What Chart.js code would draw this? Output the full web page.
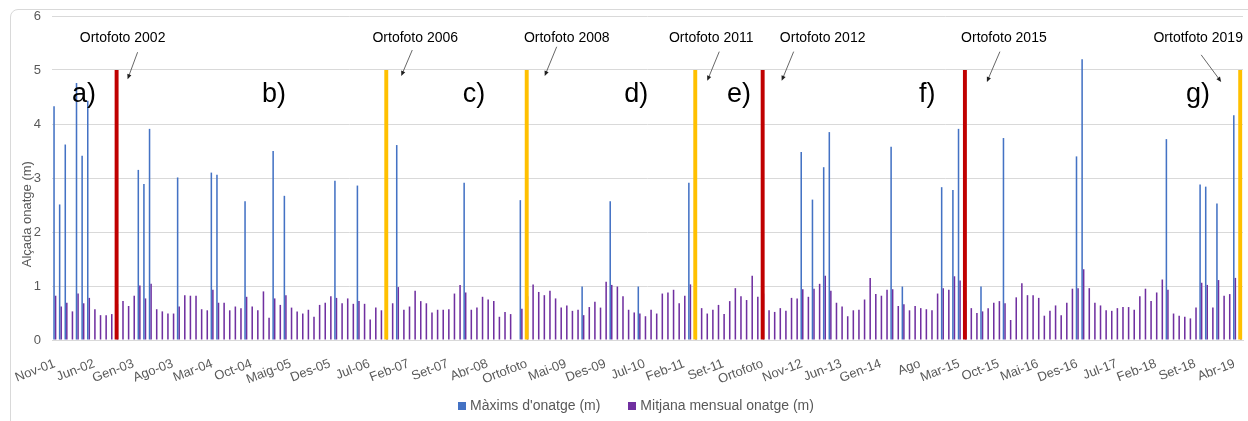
<!DOCTYPE html>
<html>
<head>
<meta charset="utf-8">
<script src="https://cdn.jsdelivr.net/npm/chart.js@4.4.1/dist/chart.umd.min.js"></script>
<style>
  html, body { margin: 0; padding: 0; background: #ffffff; }
  #wrap { position: relative; width: 1248px; height: 421px; overflow: hidden; }
  #frame { position: absolute; left: 10px; top: 9px; width: 1270px; height: 460px;
           border: 1px solid #d9d9d9; border-radius: 8px; box-sizing: border-box; }
  #chart { position: absolute; left: 0; top: 0; }
</style>
</head>
<body>
<div id="wrap">
  <div id="frame"></div>
  <canvas id="chart" width="1248" height="421"></canvas>
</div>
<script>
// Axis labels shown every 7th month
const tickLabels = ['Nov-01','Jun-02','Gen-03','Ago-03','Mar-04','Oct-04','Maig-05','Des-05','Jul-06',
  'Feb-07','Set-07','Abr-08','Ortofoto','Mai-09','Des-09','Jul-10','Feb-11','Set-11','Ortofoto',
  'Nov-12','Jun-13','Gen-14','Ago','Mar-15','Oct-15','Mai-16','Des-16','Jul-17','Feb-18','Set-18','Abr-19'];

const _ = null;

// Màxims d'onatge (m), one row per 7 months
const maxims = [
  4.33,2.51,3.62,_,4.76,3.41,4.43,
  _,_,_,_,_,_,_,
  _,3.15,2.89,3.91,_,_,_,
  _,3.01,_,_,_,_,_,
  3.10,3.06,_,_,_,_,2.57,
  _,_,_,_,3.50,_,2.67,
  _,_,_,_,_,_,_,
  _,2.95,_,_,_,2.86,_,
  _,_,_,_,_,3.61,_,
  _,_,_,_,_,_,_,
  _,_,_,2.91,_,_,_,
  _,_,_,_,_,_,2.59,
  _,_,_,_,_,_,_,
  _,_,_,0.99,_,_,_,
  _,2.57,_,_,_,_,0.99,
  _,_,_,_,_,_,_,
  _,2.91,_,_,_,_,_,
  _,_,_,_,_,_,_,
  _,_,_,_,_,_,_,
  3.48,_,2.60,_,3.20,3.85,_,
  _,_,_,_,_,_,_,
  _,_,3.58,_,0.99,_,_,
  _,_,_,_,2.83,_,2.78,
  3.91,_,_,_,0.99,_,_,
  _,3.74,_,_,_,_,_,
  _,_,_,_,_,_,_,
  3.40,5.20,_,_,_,_,_,
  _,_,_,_,_,_,_,
  _,_,3.72,_,_,_,_,
  _,2.88,2.84,_,2.53,_,_,
  4.16,_
];

// Mitjana mensual onatge (m), one row per 7 months
const mitjana = [
  0.82,0.62,0.69,0.53,0.86,0.68,0.78,
  0.57,0.46,0.46,0.48,0.67,0.72,0.63,
  0.82,1.01,0.77,1.04,0.57,0.53,0.49,
  0.49,0.62,0.83,0.82,0.82,0.57,0.55,
  0.93,0.69,0.69,0.55,0.62,0.59,0.80,
  0.62,0.55,0.90,0.41,0.77,0.65,0.83,
  0.60,0.53,0.49,0.56,0.43,0.65,0.69,
  0.81,0.78,0.68,0.77,0.67,0.72,0.67,
  0.38,0.60,0.55,0.61,0.68,0.98,0.56,
  0.62,0.91,0.72,0.68,0.51,0.56,0.56,
  0.57,0.86,1.02,0.88,0.56,0.60,0.80,
  0.75,0.72,0.43,0.52,0.48,_,0.58,
  0.81,1.03,0.89,0.83,0.91,0.77,0.60,
  0.64,0.54,0.56,0.46,0.61,0.71,0.60,
  1.08,1.02,0.99,0.81,0.56,0.51,0.49,
  0.44,0.56,0.49,0.86,0.88,0.93,0.68,
  0.82,1.03,0.69,0.59,0.49,0.56,0.65,
  0.48,0.72,0.96,0.81,0.74,1.19,0.80,
  0.86,0.55,0.52,0.59,0.54,0.78,0.77,
  0.94,0.80,0.95,1.04,1.19,0.91,0.69,
  0.62,0.44,0.55,0.56,0.75,1.15,0.85,
  0.82,0.93,0.94,0.63,0.66,0.55,0.63,
  0.59,0.57,0.55,0.86,0.96,0.93,1.18,
  1.10,0.73,0.59,0.50,0.53,0.59,0.69,
  0.72,0.68,0.37,0.79,1.05,0.83,0.83,
  0.78,0.45,0.54,0.64,0.46,0.69,0.95,
  0.96,1.31,0.96,0.69,0.64,0.55,0.54,
  0.59,0.61,0.61,0.56,0.81,0.95,0.72,
  0.88,1.12,0.93,0.49,0.45,0.43,0.40,
  0.60,1.06,1.02,0.60,1.11,0.82,0.85,
  1.15,0.70
];

// Orthophoto dates (category index), marker height and colour
const ortofotoIndex = [11, 59, 84, 114, 126, 162, 211];
const ortofotoValue = [5, 5, 5, 5, 5, 5, 5];
const ortofotoLabel = ['Ortofoto 2002','Ortofoto 2006','Ortofoto 2008','Ortofoto 2011',
  'Ortofoto 2012','Ortofoto 2015','Ortotfoto 2019'];
const ortofotoColor = ['#C00000','#FFC000','#FFC000','#FFC000','#C00000','#C00000','#FFC000'];

// Period letters and the category position where each is written
const periodLetters = ['a)','b)','c)','d)','e)','f)','g)'];
const periodAt = [5.2, 39.0, 74.6, 103.5, 121.8, 155.3, 203.5];

const FONT = '"Liberation Sans", Arial, Helvetica, sans-serif';
const BLUE = '#4472C4', PURPLE = '#7030A0';

const categories = mitjana.map((v, i) => (i % 7 === 0 ? tickLabels[i / 7] : ''));
const ortofotoData = categories.map(() => null);
const ortofotoColors = categories.map(() => 'rgba(0,0,0,0)');
ortofotoIndex.forEach((idx, k) => { ortofotoData[idx] = ortofotoValue[k]; ortofotoColors[idx] = ortofotoColor[k]; });

// Label placement around each orthophoto marker (pixel offsets from the marker, value heights)
const noteStyle = [
  { textDx: 6,   a0: [21, 5.33], a1: [11, 4.83] },
  { textDx: 29,  a0: [26, 5.37], a1: [15, 4.89] },
  { textDx: 40,  a0: [30, 5.43], a1: [18, 4.89] },
  { textDx: 16,  a0: [24, 5.34], a1: [12, 4.80] },
  { textDx: 60,  a0: [31, 5.34], a1: [19, 4.80] },
  { textDx: 39,  a0: [35, 5.34], a1: [22, 4.78] },
  { textDx: -42, a0: [-39, 5.28], a1: [-19, 4.78] }
];

function drawArrow(ctx, x0, y0, x1, y1) {
  const ang = Math.atan2(y1 - y0, x1 - x0);
  const head = 5, half = 2.2;
  const c = Math.cos(ang), s = Math.sin(ang);
  ctx.strokeStyle = '#404040';
  ctx.lineWidth = 0.8;
  ctx.beginPath();
  ctx.moveTo(x0, y0);
  ctx.lineTo(x1 - c * head * 0.8, y1 - s * head * 0.8);
  ctx.stroke();
  ctx.fillStyle = '#202020';
  ctx.beginPath();
  ctx.moveTo(x1, y1);
  ctx.lineTo(x1 - c * head - s * half, y1 - s * head + c * half);
  ctx.lineTo(x1 - c * head + s * half, y1 - s * head - c * half);
  ctx.closePath();
  ctx.fill();
}

const notesPlugin = {
  id: 'ortofotoNotes',
  afterDraw(chart) {
    const { ctx, chartArea } = chart;
    const x = chart.scales.x, y = chart.scales.y;
    ctx.save();

    // y axis title
    ctx.save();
    ctx.translate(chartArea.left - 25, y.getPixelForValue(2.33));
    ctx.rotate(-Math.PI / 2);
    ctx.font = '13px ' + FONT;
    ctx.fillStyle = '#595959';
    ctx.textAlign = 'center';
    ctx.textBaseline = 'middle';
    ctx.fillText('Alçada onatge (m)', 0, 0);
    ctx.restore();

    // period letters
    ctx.font = '27px ' + FONT;
    ctx.fillStyle = '#000000';
    ctx.textAlign = 'center';
    ctx.textBaseline = 'middle';
    periodLetters.forEach((t, k) => {
      ctx.fillText(t, x.getPixelForValue(periodAt[k]), y.getPixelForValue(4.54));
    });

    // orthophoto captions with arrows
    ctx.font = '14px ' + FONT;
    ortofotoIndex.forEach((idx, k) => {
      const px = x.getPixelForValue(idx);
      const s = noteStyle[k];
      ctx.fillStyle = '#000000';
      ctx.fillText(ortofotoLabel[k], px + s.textDx, y.getPixelForValue(5.59));
      drawArrow(ctx, px + s.a0[0], y.getPixelForValue(s.a0[1]), px + s.a1[0], y.getPixelForValue(s.a1[1]));
    });

    // legend for the two wave series, centred under the plot
    const items = chart.data.datasets.slice(0, 2).map(d => ({ text: d.label, color: d.backgroundColor }));
    ctx.font = '14px ' + FONT;
    ctx.textAlign = 'left';
    const box = 8, gapText = 4, gapItem = 28;
    const widths = items.map(it => box + gapText + ctx.measureText(it.text).width);
    const total = widths.reduce((a, b) => a + b, 0) + gapItem * (items.length - 1);
    let lx = 636 - total / 2;
    const ly = chart.height - 15;
    items.forEach((it, k) => {
      ctx.fillStyle = it.color;
      ctx.fillRect(Math.round(lx), Math.round(ly - box / 2), box, box);
      ctx.fillStyle = '#595959';
      ctx.fillText(it.text, lx + box + gapText, ly);
      lx += widths[k] + gapItem;
    });
    ctx.restore();
  }
};

new Chart(document.getElementById('chart'), {
  type: 'bar',
  data: {
    labels: categories,
    datasets: [
      { label: "Màxims d'onatge (m)", data: maxims, backgroundColor: BLUE,
        categoryPercentage: 0.55, barPercentage: 1.0, borderWidth: 0 },
      { label: 'Mitjana mensual onatge (m)', data: mitjana, backgroundColor: PURPLE,
        categoryPercentage: 0.55, barPercentage: 1.0, borderWidth: 0 },
      { label: 'Ortofoto', data: ortofotoData, backgroundColor: ortofotoColors,
        grouped: false, barPercentage: 0.7, categoryPercentage: 1.0, borderWidth: 0, order: -1 }
    ]
  },
  options: {
    responsive: false,
    animation: false,
    devicePixelRatio: 1,
    layout: { padding: { left: 24, right: 5, top: 16, bottom: 29 } },
    plugins: {
      legend: { display: false },
      tooltip: { enabled: false }
    },
    scales: {
      x: {
        grid: { display: false, drawTicks: false },
        border: { color: '#d9d9d9' },
        ticks: { autoSkip: false, minRotation: 21, maxRotation: 21, padding: 16,
                 color: '#595959', font: { size: 13, family: FONT } },
        afterFit: (s) => { s.height = 52; s.paddingLeft = 0; s.paddingRight = 0; }
      },
      y: {
        min: 0, max: 6,
        ticks: { stepSize: 1, padding: 11, color: '#595959', font: { size: 13, family: FONT } },
        grid: { color: '#d9d9d9', drawTicks: false },
        border: { display: false },
        afterFit: (s) => { s.width = 28; s.paddingTop = 0; s.paddingBottom = 0; }
      }
    }
  },
  plugins: [notesPlugin]
});
</script>
</body>
</html>
